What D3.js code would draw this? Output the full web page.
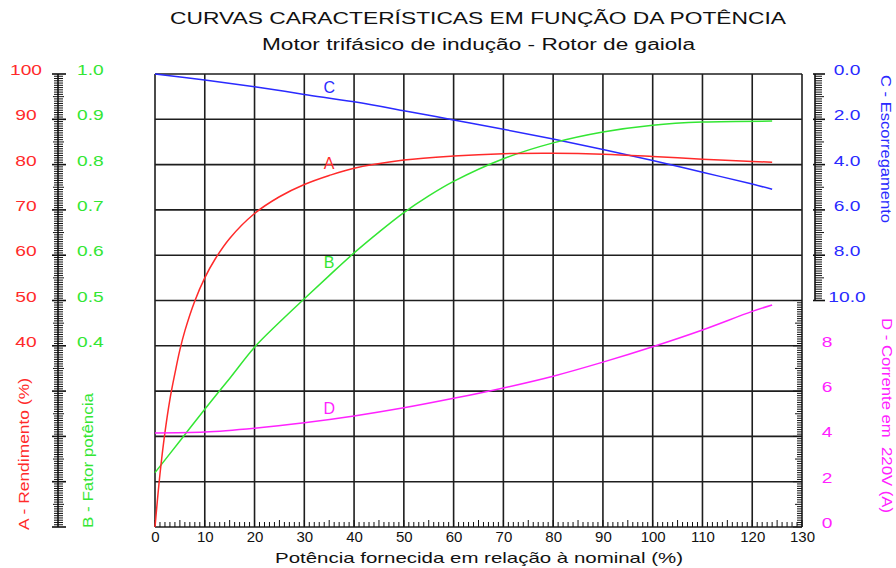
<!DOCTYPE html>
<html><head><meta charset="utf-8">
<script src="https://cdn.jsdelivr.net/npm/d3@7"></script>
<style>body{margin:0;background:#fff}svg{display:block}text{font-family:"Liberation Sans",Arial,sans-serif}</style>
</head><body>
<script>
// ---- data ----
const xTicks = [0,10,20,30,40,50,60,70,80,90,100,110,120,130];
const rendTicks = [40,50,60,70,80,90,100];
const fpTicks = [0.4,0.5,0.6,0.7,0.8,0.9,1.0];
const escTicks = [0,2,4,6,8,10];
const corrTicks = [0,2,4,6,8];

const potA = [0,1,2,3,4,5,6,8,10,12,15,20,25,30,35,40,50,60,70,80,90,100,110,120,124];
const rendimento = [0,11.7,20.9,28.2,33.9,39.1,43.3,49.9,55.0,59.0,63.7,69.2,72.9,75.6,77.6,79.2,81.0,81.9,82.4,82.5,82.3,81.8,81.2,80.7,80.5];

const potB = [0,5,10,15,20,25,30,35,40,45,50,55,60,70,80,90,100,110,124];
const fatorPot = [0.12,0.19,0.26,0.328,0.397,0.452,0.504,0.555,0.605,0.651,0.694,0.731,0.763,0.813,0.848,0.872,0.887,0.894,0.896];

const potC = [0,10,20,30,40,50,60,70,80,90,100,110,120,124];
const escorregamento = [0,0.26,0.56,0.9,1.23,1.62,2.03,2.44,2.87,3.33,3.82,4.34,4.86,5.09];

const potD = [0,10,20,30,40,50,60,70,80,90,100,110,120,124];
const corrente = [4.15,4.19,4.36,4.6,4.9,5.26,5.68,6.14,6.66,7.28,7.96,8.7,9.52,9.8];

const RED="#ff2a2a", GREEN="#33e633", BLUE="#2a2aff", MAG="#ff22ff";

const W=896,H=568;
const svg=d3.select("body").append("svg").attr("width",W).attr("height",H);

const x=d3.scaleLinear([0,130],[155,802]);
const yL=d3.scaleLinear([0,100],[527,74]);
const yB=d3.scaleLinear([0,1],[527,74]);
const yC=d3.scaleLinear([0,10],[74,300.5]);
const yD=d3.scaleLinear([0,10],[527,300.5]);

// grid
const grid=svg.append("g").attr("stroke","#1e1e1e").attr("stroke-width",1.6);
xTicks.forEach(v=>grid.append("line").attr("x1",x(v)).attr("x2",x(v)).attr("y1",yL(0)).attr("y2",yL(100)));
d3.range(0,101,10).forEach(v=>grid.append("line").attr("x1",x(0)).attr("x2",x(130)).attr("y1",yL(v)).attr("y2",yL(v)));

// rulers
const rul=svg.append("g").attr("stroke","#111").attr("stroke-width",1);
rul.append("line").attr("x1",58).attr("x2",58).attr("y1",yL(0)).attr("y2",yL(100)).attr("stroke-width",1.6);
d3.range(0,100.01,0.5).forEach(v=>{
  const major = Math.abs(v%10)<1e-6, mid=Math.abs(v%5)<1e-6;
  const a = major?52:(mid?53:54), b = major?66:(mid?64:63);
  rul.append("line").attr("x1",a).attr("x2",b).attr("y1",yL(v)).attr("y2",yL(v)).attr("stroke-width",major?1.6:1);
});
rul.append("line").attr("x1",815).attr("x2",815).attr("y1",yC(0)).attr("y2",yC(10)).attr("stroke-width",1.6);
d3.range(0,10.001,0.1).forEach(v=>{
  const k=Math.round(v*10); const major=k%20===0, mid=k%10===0;
  rul.append("line").attr("x1",major?813:815).attr("x2",major?825:(mid?824:822)).attr("y1",yC(v)).attr("y2",yC(v)).attr("stroke-width",major?1.6:1);
});
d3.range(0,10.001,0.1).forEach(v=>{
  const k=Math.round(v*10); const major=k%20===0, mid=k%10===0;
  rul.append("line").attr("x1",x(130)).attr("x2",x(130)-(major?9:(mid?7:5))).attr("y1",yD(v)).attr("y2",yD(v));
});
d3.range(0,130.01,1).forEach(v=>{
  const mid=v%5===0;
  rul.append("line").attr("x1",x(v)).attr("x2",x(v)).attr("y1",yL(0)).attr("y2",yL(0)-(mid?7:5));
});

// curves
const mk=(xs,sc)=>d3.line().x((d,i)=>x(xs[i])).y(d=>sc(d)).curve(d3.curveCatmullRom.alpha(0.5));
const curves=svg.append("g").attr("fill","none").attr("stroke-width",1.5);
curves.append("path").attr("d",mk(potC,yC)(escorregamento)).attr("stroke",BLUE);
curves.append("path").attr("d",mk(potB,yB)(fatorPot)).attr("stroke",GREEN);
curves.append("path").attr("d",mk(potA,yL)(rendimento)).attr("stroke",RED);
curves.append("path").attr("d",mk(potD,yD)(corrente)).attr("stroke",MAG);

// curve labels
const lab=[["C",95.8,BLUE],["A",79,RED],["B",57.2,GREEN],["D",24.9,MAG]];
lab.forEach(([t,v,c])=>svg.append("text").attr("x",x(35)).attr("y",yL(v)).attr("text-anchor","middle")
  .attr("font-size",16).attr("fill",c).text(t));

// tick labels
const SX=1.28;
function tl(g,xx,yy,t,c,anchor,sx){
  g.append("text").attr("transform",`translate(${xx},${yy}) scale(${sx},1)`).attr("text-anchor",anchor)
   .attr("font-size",15).attr("fill",c).text(t);
}
const tg=svg.append("g");
rendTicks.forEach(v=>tl(tg,26,yL(v)+1,String(v),RED,"middle",SX));
fpTicks.forEach(v=>tl(tg,77,yB(v)+1,v.toFixed(1),GREEN,"start",SX));
escTicks.forEach(v=>tl(tg,847,yC(v)+1,v.toFixed(1),BLUE,"middle",SX));
corrTicks.forEach(v=>tl(tg,827,yD(v)+1,String(v),MAG,"middle",SX));

const xa=svg.append("g").attr("transform",`translate(0,${yL(0)})`)
  .call(d3.axisBottom(x).tickValues(xTicks).tickSize(0).tickPadding(4).tickFormat(d3.format("d")));
xa.select(".domain").remove();
xa.selectAll("text").attr("font-size",15).attr("font-family",null).attr("fill","#111");

// titles
function tt(xx,yy,t,size,c,len,rot){
  const e=svg.append("text").attr("font-size",size).attr("fill",c).style("white-space","pre").text(t)
    .attr("textLength",len).attr("lengthAdjust","spacingAndGlyphs");
  if(rot){ e.attr("transform",`translate(${xx},${yy}) rotate(${rot})`).attr("text-anchor","start"); }
  else { e.attr("x",xx).attr("y",yy).attr("text-anchor","middle"); }
}
tt(478,24,"CURVAS CARACTERÍSTICAS EM FUNÇÃO DA POTÊNCIA",17,"#111",616);
tt(478.5,50,"Motor trifásico de indução - Rotor de gaiola",16,"#111",433);
tt(479,563,"Potência fornecida em relação à nominal (%)",15,"#111",408);
tt(29,530,"A - Rendimento (%)",15,RED,152,-90);
tt(93,528,"B - Fator potência",15,GREEN,135,-90);
tt(881,75,"C - Escorregamento",15,BLUE,148,90);
tt(882,318,"D - Corrente em  220V (A)",15,MAG,195,90);
</script>
</body></html>
